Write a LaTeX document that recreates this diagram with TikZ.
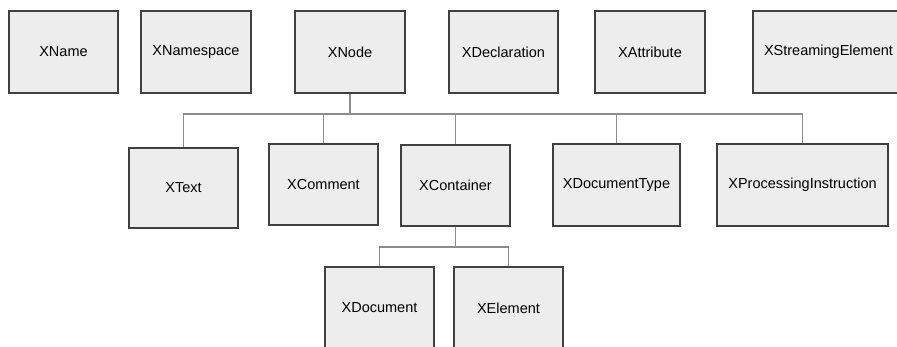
\documentclass[tikz,border=0pt]{standalone}
\usepackage{fontspec}
\setmainfont{Liberation Sans}
\begin{document}
\begin{tikzpicture}[x=1pt,y=-1pt,
  cls/.style={draw=black!75,line width=1.8pt,fill=black!7,inner sep=0pt,
    minimum width=#1,minimum height=82pt,font=\fontsize{14.5}{17}\selectfont},
  cls/.default=109pt,
  link/.style={draw=black!45,line width=1.4pt}]
\useasboundingbox (0,0) rectangle (897,346);
\clip (0,0) rectangle (897,346);
% top row
\node[cls] (xname) at (63.5,52) {XName};
\node[cls=110pt] (xnamespace) at (196,52) {XNamespace};
\node[cls=110pt] (xnode) at (350,52) {XNode};
\node[cls] (xdecl) at (503.5,52) {XDeclaration};
\node[cls=110pt] (xattr) at (650,52) {XAttribute};
\node[cls=151pt] (xstream) at (828.5,52) {XStreamingElement};
% second row
\node[cls,minimum height=80pt] (xtext) at (183.5,188) {XText};
\node[cls,minimum height=81pt] (xcomment) at (323.5,184.5) {XComment};
\node[cls,minimum height=81pt] (xcontainer) at (455.5,185.5) {XContainer};
\node[cls=127pt] (xdoctype) at (616.5,185) {XDocumentType};
\node[cls=171pt] (xpi) at (802.5,185) {XProcessingInstruction};
% third row
\node[cls] (xdocument) at (379.5,308) {XDocument};
\node[cls] (xelement) at (508.5,308) {XElement};
% connectors
\coordinate (bus1) at (350,114);
\coordinate (bus2) at (455.5,247);
\draw[link] (xnode.south) -- (bus1);
\foreach \c in {xtext,xcomment,xcontainer,xdoctype,xpi}
  \draw[link] (bus1) -| (\c.north);
\draw[link] (xcontainer.south) -- (bus2);
\foreach \c in {xdocument,xelement}
  \draw[link] (bus2) -| (\c.north);
\end{tikzpicture}
\end{document}
